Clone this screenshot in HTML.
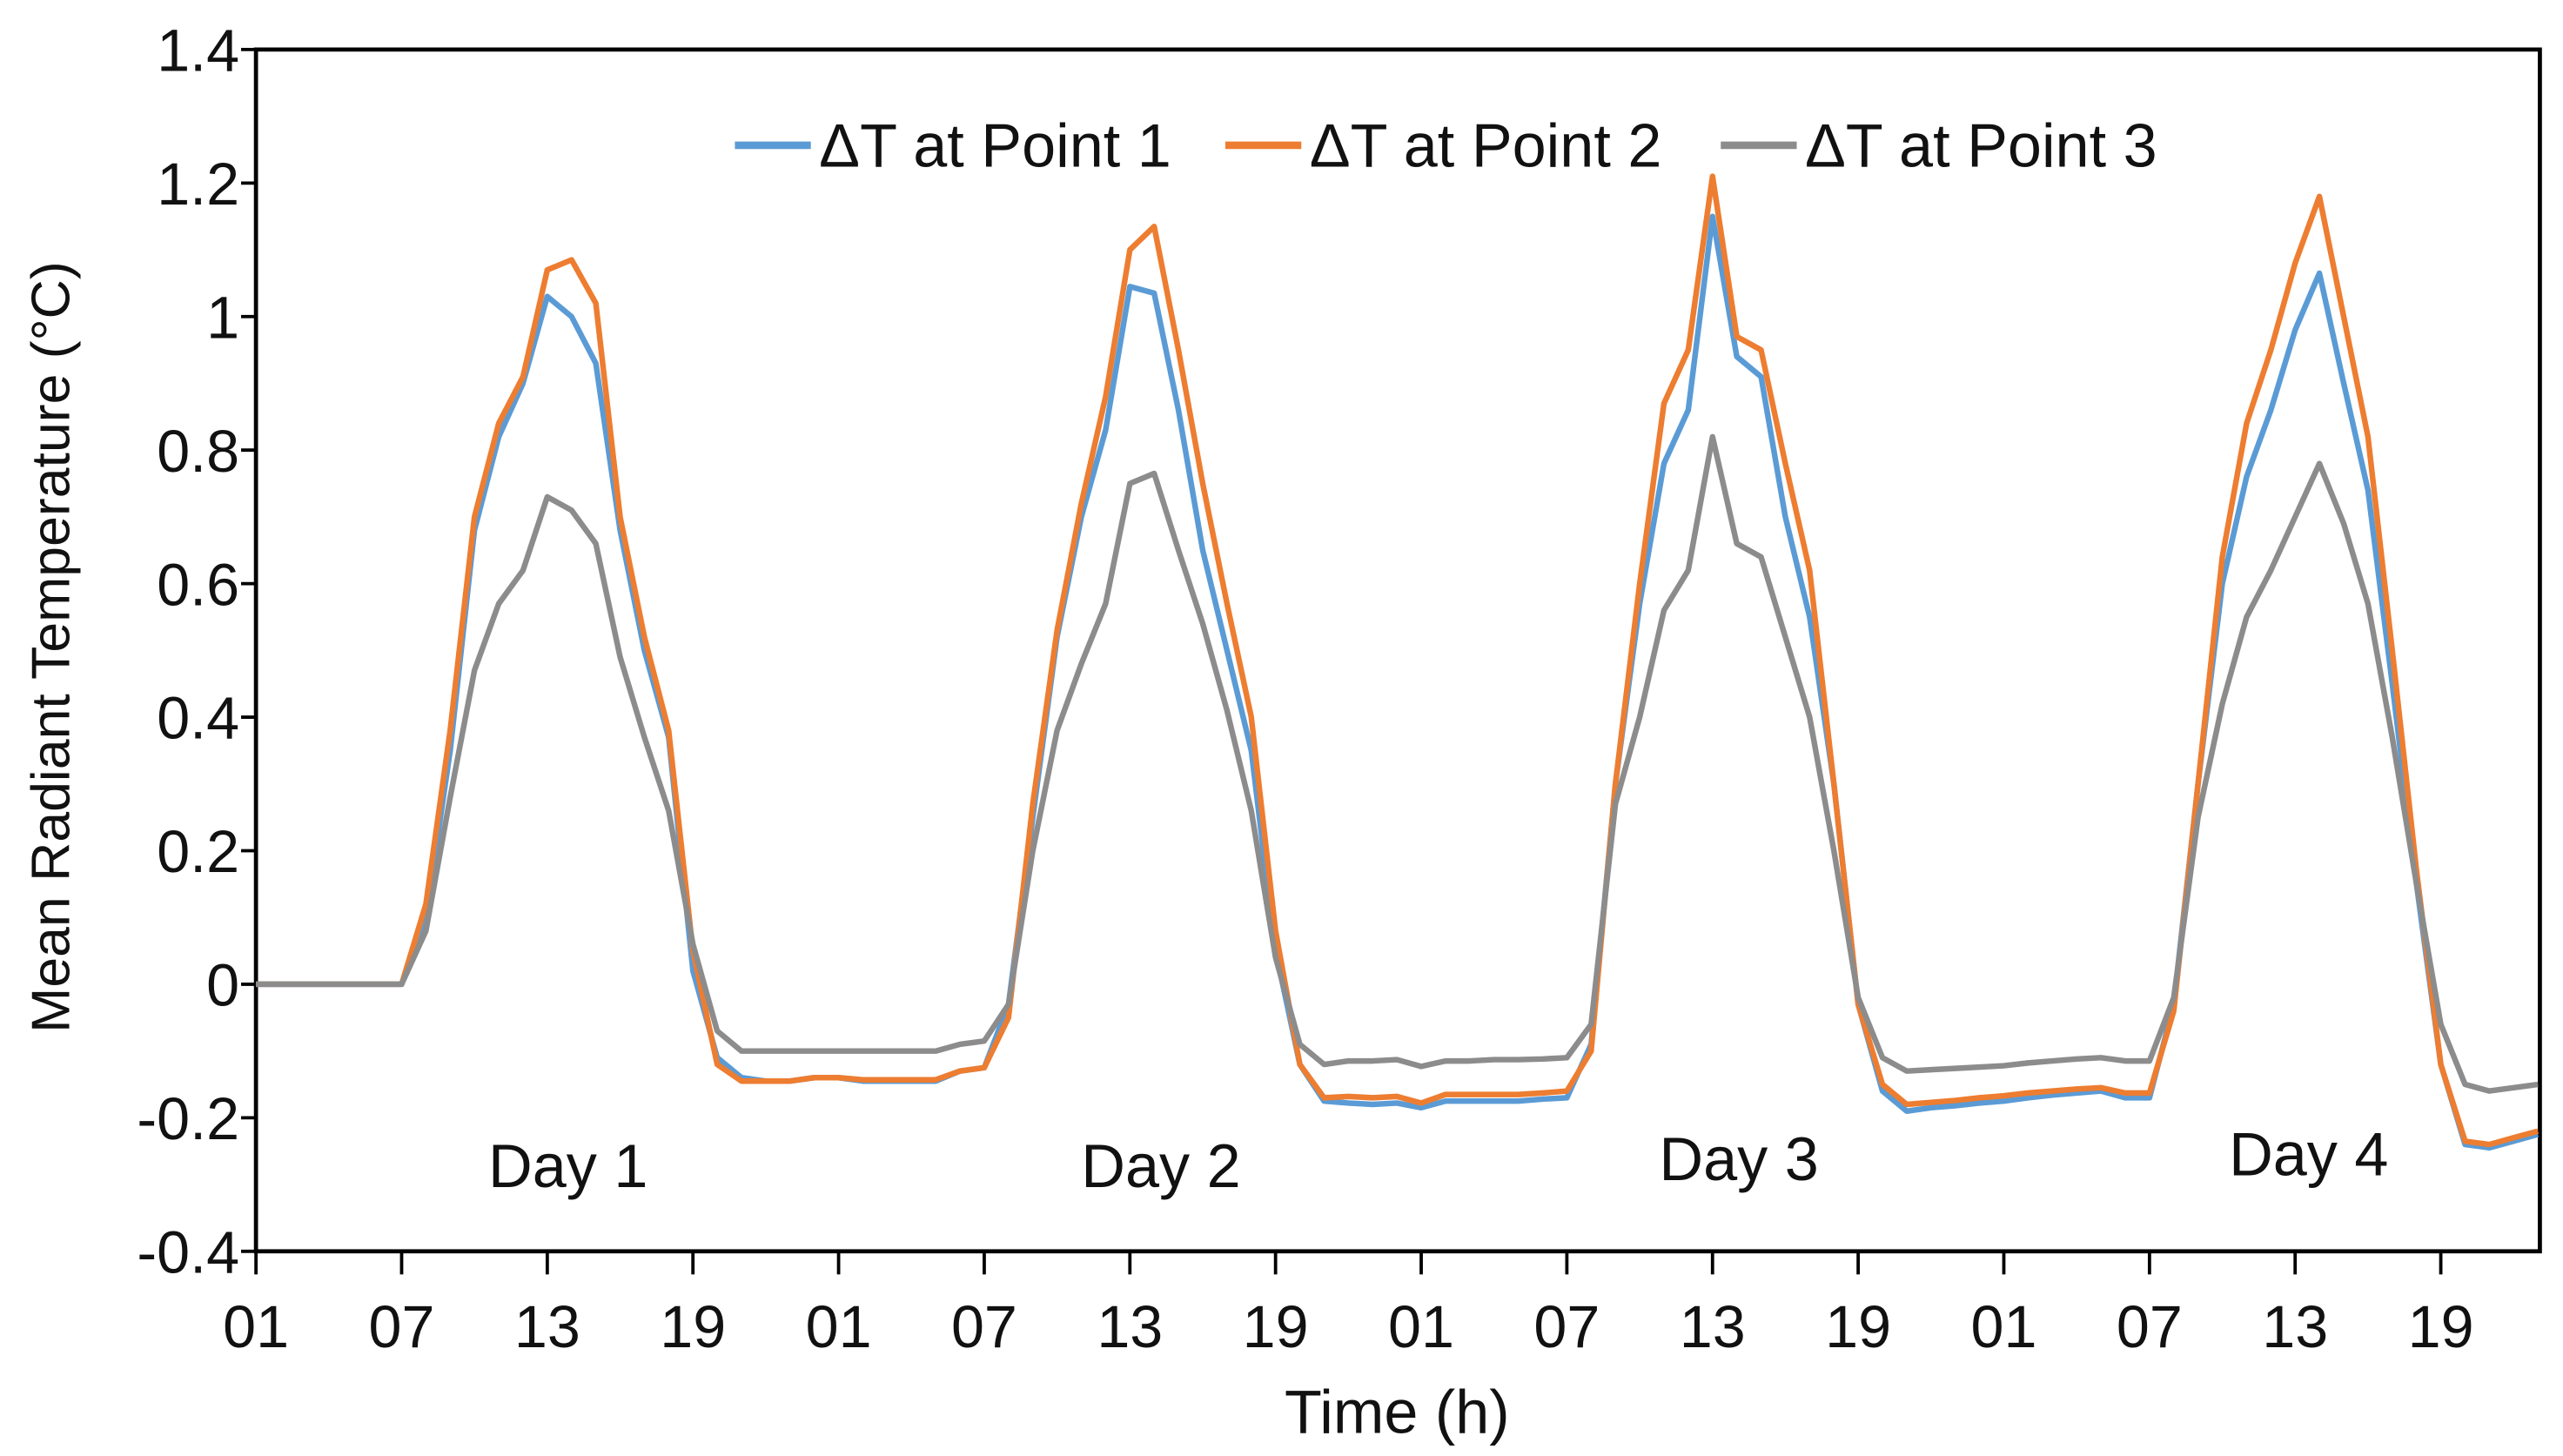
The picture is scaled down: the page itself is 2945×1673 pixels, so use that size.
<!DOCTYPE html>
<html><head><meta charset="utf-8"><style>
html,body{margin:0;padding:0;background:#fff;}
svg{display:block;font-family:"Liberation Sans",Arial,sans-serif;}
</style></head><body>
<svg id="chart" width="2945" height="1673" viewBox="0 0 1552 882" preserveAspectRatio="none" xmlns="http://www.w3.org/2000/svg">
<g id="plot"></g>
</svg>
<script>
const xTickLabels=["01","07","13","19","01","07","13","19","01","07","13","19","01","07","13","19"];
const yTicks=[-0.4,-0.2,0,0.2,0.4,0.6,0.8,1,1.2,1.4];
const yTickLabels=["-0.4","-0.2","0","0.2","0.4","0.6","0.8","1","1.2","1.4"];
const seriesNames=["ΔT at Point 1","ΔT at Point 2","ΔT at Point 3"];
const seriesColors=["#5B9BD5","#ED7D31","#8C8C8C"];
const dayLabels=["Day 1","Day 2","Day 3","Day 4"];
const point1=[0,0,0,0,0,0,0,0.1,0.35,0.68,0.82,0.9,1.03,1.0,0.93,0.68,0.5,0.37,0.02,-0.11,-0.14,-0.145,-0.145,-0.14,
-0.14,-0.145,-0.145,-0.145,-0.145,-0.13,-0.125,-0.03,0.25,0.52,0.7,0.83,1.045,1.035,0.86,0.65,0.5,0.35,0.05,-0.12,-0.175,-0.178,-0.18,-0.178,
-0.185,-0.175,-0.175,-0.175,-0.175,-0.172,-0.17,-0.09,0.3,0.57,0.78,0.86,1.15,0.94,0.91,0.7,0.55,0.3,-0.03,-0.16,-0.19,-0.185,-0.182,-0.178,
-0.175,-0.17,-0.166,-0.163,-0.16,-0.17,-0.17,-0.03,0.3,0.6,0.76,0.86,0.98,1.065,0.9,0.74,0.45,0.15,-0.12,-0.24,-0.245,-0.235,-0.225];
const point2=[0,0,0,0,0,0,0,0.12,0.38,0.7,0.84,0.91,1.07,1.085,1.02,0.7,0.52,0.38,0.05,-0.12,-0.145,-0.145,-0.145,-0.14,
-0.14,-0.143,-0.143,-0.143,-0.143,-0.13,-0.125,-0.05,0.27,0.53,0.72,0.88,1.1,1.135,0.95,0.75,0.57,0.4,0.08,-0.12,-0.17,-0.168,-0.17,-0.168,
-0.178,-0.165,-0.165,-0.165,-0.165,-0.163,-0.16,-0.1,0.3,0.6,0.87,0.95,1.21,0.97,0.95,0.78,0.62,0.3,-0.03,-0.15,-0.18,-0.177,-0.174,-0.17,
-0.167,-0.163,-0.16,-0.157,-0.155,-0.163,-0.163,-0.04,0.3,0.64,0.84,0.95,1.08,1.18,1.0,0.82,0.5,0.17,-0.12,-0.235,-0.24,-0.23,-0.22];
const point3=[0,0,0,0,0,0,0,0.08,0.28,0.47,0.57,0.62,0.73,0.71,0.66,0.49,0.37,0.26,0.06,-0.07,-0.1,-0.1,-0.1,-0.1,
-0.1,-0.1,-0.1,-0.1,-0.1,-0.09,-0.085,-0.03,0.2,0.38,0.48,0.57,0.75,0.765,0.65,0.54,0.41,0.26,0.04,-0.09,-0.12,-0.115,-0.115,-0.113,
-0.123,-0.115,-0.115,-0.113,-0.113,-0.112,-0.11,-0.06,0.27,0.4,0.56,0.62,0.82,0.66,0.64,0.52,0.4,0.2,-0.02,-0.11,-0.13,-0.128,-0.126,-0.124,
-0.122,-0.118,-0.115,-0.112,-0.11,-0.115,-0.115,-0.02,0.25,0.42,0.55,0.62,0.7,0.78,0.69,0.57,0.37,0.15,-0.06,-0.15,-0.16,-0.155,-0.15];
const series=[point1,point2,point3];

const NS="http://www.w3.org/2000/svg";
const L=155,R=1538,T=30,B=758;
const yMin=-0.4,yMax=1.4,hourStep=14.7;
function xScale(i){return L+i*hourStep;}
function yScale(v){return B-(v-yMin)/(yMax-yMin)*(B-T);}
const g=document.getElementById('plot');
function mk(tag,attrs,parent){const e=document.createElementNS(NS,tag);for(const k in attrs)e.setAttribute(k,attrs[k]);(parent||g).appendChild(e);return e;}

const frame=mk('rect',{x:L,y:T,width:R-L,height:B-T,fill:'none',stroke:'#000','stroke-width':2.5});



yTicks.forEach((v,i)=>{
  const y=yScale(v);
  const t=mk('line',{x1:L-9,x2:L,y1:y,y2:y,stroke:'#000','stroke-width':2});
  
  
  const lb=mk('text',{x:L-10,y:y+13,'text-anchor':'end','font-size':36,fill:'#111'});
  lb.textContent=yTickLabels[i];
  
  
});
xTickLabels.forEach((s,i)=>{
  const x=xScale(i*6);
  const t=mk('line',{x1:x,x2:x,y1:B,y2:B+14,stroke:'#000','stroke-width':2});
  
  
  const lb=mk('text',{x:x,y:816,'text-anchor':'middle','font-size':36,fill:'#111'});
  lb.textContent=s;
  
  
});
series.forEach((arr,s)=>{
  const pts=arr.map((v,i)=>xScale(i).toFixed(1)+','+yScale(v).toFixed(1)).join(' ');
  const p=mk('polyline',{points:pts,fill:'none',stroke:seriesColors[s],'stroke-width':3.4,'stroke-linejoin':'round'});
  
  
});
const dayPos=[[344,719],[703,719],[1053,715],[1398,712]];
dayLabels.forEach((d,i)=>{
  const t=mk('text',{x:dayPos[i][0],y:dayPos[i][1],'text-anchor':'middle','font-size':37,fill:'#111'});
  t.textContent=d;
  
  
});
const legX=[445,742,1042];
seriesNames.forEach((n,i)=>{
  const ln=mk('line',{x1:legX[i],x2:legX[i]+46,y1:88,y2:88,stroke:seriesColors[i],'stroke-width':4.5});
  
  
  const t=mk('text',{x:legX[i]+51,y:101,'font-size':37,fill:'#111'});
  t.textContent=n;
  
  
});
const xt=mk('text',{x:846,y:868,'text-anchor':'middle','font-size':37,fill:'#111'});
xt.textContent='Time (h)';


const yt=mk('text',{x:0,y:0,'text-anchor':'middle','font-size':33,fill:'#111',transform:'translate(42,392) rotate(-90)'});
yt.textContent='Mean Radiant Temperature (°C)';


</script>
</body></html>
